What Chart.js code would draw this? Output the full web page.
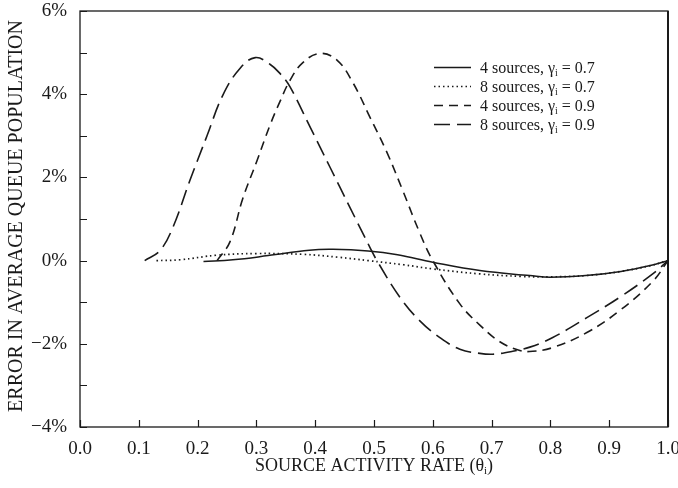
<!DOCTYPE html>
<html>
<head>
<meta charset="utf-8">
<script src="https://cdn.jsdelivr.net/npm/chart.js@4.4.1/dist/chart.umd.min.js"></script>
<style>
	html, body { margin:0; padding:0; background:#fff; }
	#wrap { position:relative; width:678px; height:488px; }
</style>
</head>
<body>
<div id="wrap"><canvas id="c" width="678" height="488"></canvas></div>
<script>
// values (x = source activity rate, y = error in %)
const rate4g07 = [0.21, 0.26, 0.32, 0.39, 0.43, 0.49, 0.54, 0.60, 0.68, 0.765, 0.80, 0.86, 0.92, 0.97, 1.0];
const err4g07  = [-0.02, 0.02, 0.12, 0.25, 0.27, 0.23, 0.14, -0.04, -0.24, -0.36, -0.40, -0.36, -0.26, -0.12, 0];

const rate8g07 = [0.13, 0.17, 0.233, 0.30, 0.38, 0.44, 0.49, 0.55, 0.60, 0.68, 0.75, 0.80, 0.86, 0.92, 0.97, 1.0];
const err8g07  = [0, 0.02, 0.13, 0.17, 0.15, 0.08, 0.0, -0.10, -0.20, -0.32, -0.38, -0.39, -0.36, -0.26, -0.12, 0];

const rate4g09 = [0.233, 0.255, 0.277, 0.301, 0.323, 0.340, 0.357, 0.379, 0.408, 0.437, 0.464, 0.493, 0.522, 0.549, 0.578, 0.60, 0.646, 0.68, 0.714, 0.748, 0.77, 0.804, 0.862, 0.918, 0.974, 1.0];
const err4g09  = [0.0, 0.45, 1.50, 2.40, 3.25, 3.82, 4.33, 4.76, 4.98, 4.82, 4.28, 3.45, 2.60, 1.68, 0.66, 0.0, -1.04, -1.55, -1.95, -2.16, -2.18, -2.09, -1.73, -1.20, -0.50, 0];

const rate8g09 = [0.11, 0.136, 0.158, 0.187, 0.216, 0.243, 0.272, 0.298, 0.323, 0.34, 0.357, 0.391, 0.425, 0.459, 0.493, 0.505, 0.544, 0.578, 0.612, 0.646, 0.68, 0.702, 0.736, 0.765, 0.804, 0.862, 0.918, 0.974, 1.0];
const err8g09  = [0, 0.24, 0.80, 1.93, 3.00, 3.98, 4.62, 4.88, 4.72, 4.50, 4.18, 3.22, 2.25, 1.28, 0.32, 0, -0.88, -1.45, -1.85, -2.13, -2.23, -2.25, -2.18, -2.08, -1.85, -1.37, -0.88, -0.32, 0];

const seriesNames = ['4 sources, γ|i| = 0.7', '8 sources, γ|i| = 0.7', '4 sources, γ|i| = 0.9', '8 sources, γ|i| = 0.9'];
const xTitle = 'SOURCE ACTIVITY RATE (θ|i|)';
const yTitle = 'ERROR IN AVERAGE QUEUE POPULATION';

const serif = '"Liberation Serif", "Times New Roman", serif';
const ink = '#1a1a1a';

const pts = (xs, ys) => xs.map((x, i) => ({x: x, y: ys[i]}));

const line = (label, data, dash, w) => ({
	label: label,
	data: data,
	borderColor: ink,
	borderWidth: w,
	borderDash: dash,
	pointRadius: 0,
	tension: 0.4,
	fill: false,
});

// text with |sub| pieces drawn as a subscript
const richWidth = (ctx, s, size) => {
	let w = 0;
	s.split('|').forEach((p, i) => {
		ctx.font = (i % 2 ? size * 0.62 : size) + 'px ' + serif;
		w += ctx.measureText(p).width;
	});
	return w;
};
const richText = (ctx, s, x, y, size) => {
	s.split('|').forEach((p, i) => {
		const sub = i % 2;
		ctx.font = (sub ? size * 0.62 : size) + 'px ' + serif;
		ctx.fillText(p, x, y + (sub ? size * 0.28 : 0));
		x += ctx.measureText(p).width;
	});
};

const decor = {
	id: 'decor',
	afterDraw(chart) {
		const ctx = chart.ctx, a = chart.chartArea;
		const xs = chart.scales.x, ys = chart.scales.y;
		ctx.save();
		ctx.strokeStyle = ink;
		ctx.fillStyle = ink;

		// frame
		ctx.lineWidth = 1.3;
		ctx.strokeRect(a.left, a.top, a.right - a.left, a.bottom - a.top);
		ctx.lineWidth = 2;
		ctx.beginPath(); ctx.moveTo(a.right, a.top); ctx.lineTo(a.right, a.bottom); ctx.stroke();

		// inward tick marks
		ctx.lineWidth = 1.2;
		ctx.beginPath();
		ys.ticks.forEach(t => {
			const p = Math.round(ys.getPixelForValue(t.value)) + 0.5;
			ctx.moveTo(a.left, p); ctx.lineTo(a.left + 7, p);
		});
		xs.ticks.forEach(t => {
			const p = Math.round(xs.getPixelForValue(t.value)) + 0.5;
			ctx.moveTo(p, a.bottom); ctx.lineTo(p, a.bottom - 7);
		});
		ctx.stroke();

		// legend
		const rows = [67.5, 86.5, 105.5, 124.5];
		ctx.textBaseline = 'middle';
		ctx.textAlign = 'left';
		chart.data.datasets.forEach((d, i) => {
			ctx.lineWidth = d.borderWidth;
			ctx.setLineDash(d.borderDash);
			ctx.beginPath(); ctx.moveTo(434, rows[i]); ctx.lineTo(471, rows[i]); ctx.stroke();
			ctx.setLineDash([]);
			richText(ctx, seriesNames[i], 480, rows[i] + 1, 16);
		});

		// axis titles
		const tw = richWidth(ctx, xTitle, 18);
		richText(ctx, xTitle, 374 - tw / 2, 466, 18);

		ctx.translate(17, 216);
		ctx.rotate(-Math.PI / 2);
		ctx.textAlign = 'center';
		ctx.font = '20px ' + serif;
		ctx.fillText(yTitle, 0, 0);
		ctx.restore();
	}
};

new Chart(document.getElementById('c'), {
	type: 'line',
	data: {
		datasets: [
			line(seriesNames[0], pts(rate4g07, err4g07), [], 1.5),
			line(seriesNames[1], pts(rate8g07, err8g07), [1.5, 3], 1.7),
			line(seriesNames[2], pts(rate4g09, err4g09), [9, 6], 1.6),
			line(seriesNames[3], pts(rate8g09, err8g09), [16, 7], 1.6),
		]
	},
	options: {
		responsive: false,
		animation: false,
		layout: { padding: { top: 11, right: 10, left: 0, bottom: 0 } },
		plugins: {
			legend: { display: false },
			tooltip: { enabled: false },
		},
		scales: {
			x: {
				type: 'linear',
				min: 0, max: 1,
				grid: { display: false },
				border: { display: false },
				ticks: {
					stepSize: 0.1,
					autoSkip: false,
					maxRotation: 0,
					padding: 3,
					color: ink,
					font: { family: serif, size: 19 },
					callback: v => v.toFixed(1),
				},
				afterFit: s => { s.height = 61; s.paddingLeft = 0; s.paddingRight = 0; },
			},
			y: {
				min: -4, max: 6,
				grid: { display: false },
				border: { display: false },
				ticks: {
					stepSize: 1,
					autoSkip: false,
					padding: 5,
					color: ink,
					font: { family: serif, size: 19 },
					callback: v => (Math.round(v) % 2 ? '' : (v < 0 ? '\u2212' : '') + Math.abs(v) + '%'),
				},
				afterFit: s => { s.width = 80; s.paddingTop = 0; s.paddingBottom = 0; },
			},
		},
	},
	plugins: [decor],
});
</script>
</body>
</html>
